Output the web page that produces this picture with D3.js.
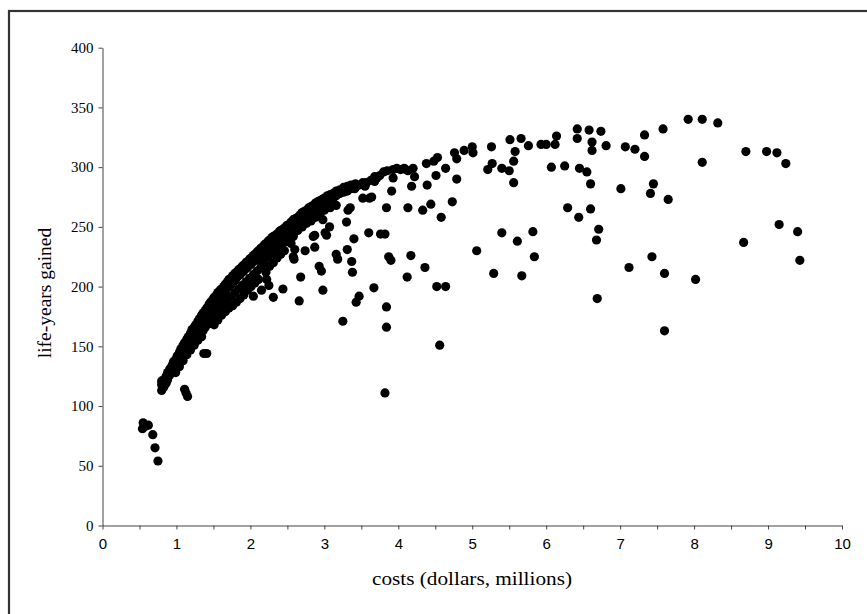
<!DOCTYPE html>
<html lang="en">
<head>
  <meta charset="UTF-8">
  <title>Life-years gained vs costs</title>
  <style>
    body { margin: 0; background: #fff; }
    .y-tick text { font-family: 'Liberation Serif', serif; font-size: 15px; fill: #000; }
    .x-tick text { font-family: 'Liberation Sans Narrow', 'Liberation Sans', sans-serif; font-size: 15px; fill: #000; }
    .axis-title { font-family: 'Liberation Serif', serif; font-size: 19.5px; fill: #000; }
  </style>
</head>
<body>
  <div id="chart"></div>

  <script src="https://d3js.org/d3.v7.min.js"></script>
  <script>
    // points: [cost in $ millions, life-years gained]
    const lowCostPoints = [
      [0.55, 86], [0.62, 84], [0.54, 81], [0.58, 83], [0.68, 76], [0.71, 65], [0.75, 54],
      [1.11, 114], [1.13, 111], [1.15, 108], [1.37, 144], [1.41, 144], [0.80, 113]
    ];

    const mainBandPoints = [
      [0.80, 118], [0.80, 121], [0.83, 116], [0.83, 122], [0.86, 119], [0.86, 125], [0.88, 128], [0.88, 122],
      [0.91, 126], [0.91, 131], [0.94, 128], [0.94, 134], [0.96, 131], [0.96, 137], [0.99, 133], [0.99, 139], [0.99, 128],
      [1.01, 136], [1.01, 142], [1.04, 139], [1.04, 145], [1.04, 133], [1.06, 142], [1.06, 148],
      [1.09, 145], [1.09, 151], [1.09, 138], [1.11, 147], [1.11, 153], [1.14, 150], [1.14, 156], [1.14, 143],
      [1.16, 152], [1.16, 158], [1.19, 155], [1.19, 161], [1.19, 147], [1.21, 158], [1.21, 164],
      [1.24, 160], [1.24, 166], [1.24, 151], [1.26, 163], [1.26, 168], [1.29, 165], [1.29, 171], [1.29, 155],
      [1.31, 167], [1.31, 173], [1.34, 170], [1.34, 176], [1.34, 158], [1.36, 172], [1.36, 178], [1.36, 163],
      [1.39, 175], [1.39, 180], [1.39, 166], [1.41, 177], [1.41, 182], [1.44, 179], [1.44, 185], [1.44, 169],
      [1.46, 181], [1.46, 187], [1.46, 172], [1.49, 183], [1.49, 189], [1.49, 176], [1.51, 185], [1.51, 191], [1.51, 168],
      [1.54, 187], [1.54, 193], [1.54, 179], [1.56, 189], [1.56, 195], [1.56, 172], [1.59, 191], [1.59, 197], [1.59, 182],
      [1.61, 193], [1.61, 198], [1.61, 176], [1.64, 195], [1.64, 200], [1.64, 186], [1.66, 197], [1.66, 202], [1.66, 179],
      [1.69, 199], [1.69, 204], [1.69, 189], [1.71, 200], [1.71, 206], [1.71, 182], [1.74, 202], [1.74, 207], [1.74, 192],
      [1.76, 204], [1.76, 209], [1.76, 184], [1.79, 205], [1.79, 211], [1.79, 195], [1.81, 207], [1.81, 212], [1.81, 187],
      [1.84, 209], [1.84, 214], [1.84, 198], [1.86, 210], [1.86, 215], [1.86, 190], [1.89, 212], [1.89, 217], [1.89, 201],
      [1.91, 213], [1.91, 218], [1.91, 193], [1.94, 215], [1.94, 220], [1.94, 204], [1.96, 216], [1.96, 221], [1.96, 197],
      [1.99, 218], [1.99, 223], [1.99, 207], [2.01, 219], [2.01, 224], [2.01, 200], [2.04, 221], [2.04, 226], [2.04, 210],
      [2.06, 222], [2.06, 227], [2.06, 203], [2.09, 224], [2.09, 229], [2.09, 213], [2.11, 225], [2.11, 230], [2.11, 206],
      [2.14, 227], [2.14, 232], [2.14, 216], [2.16, 228], [2.16, 233], [2.16, 219], [2.19, 230], [2.19, 235], [2.19, 222],
      [2.21, 231], [2.21, 236], [2.21, 212], [2.24, 233], [2.24, 238], [2.24, 225], [2.26, 234], [2.26, 239], [2.26, 217],
      [2.29, 235], [2.29, 241], [2.29, 228], [2.31, 237], [2.31, 242], [2.31, 220], [2.34, 238], [2.34, 243], [2.34, 231],
      [2.36, 239], [2.36, 244], [2.36, 224], [2.39, 241], [2.39, 246], [2.39, 233], [2.41, 242], [2.41, 247], [2.41, 227],
      [2.44, 243], [2.44, 248], [2.44, 236], [2.46, 244], [2.46, 249], [2.46, 230], [2.49, 246], [2.49, 251], [2.49, 238],
      [2.52, 247], [2.52, 252], [2.52, 241], [2.55, 249], [2.55, 254], [2.55, 236], [2.58, 250], [2.58, 256], [2.58, 244],
      [2.61, 252], [2.61, 257], [2.64, 253], [2.64, 258], [2.64, 247], [2.67, 255], [2.67, 260],
      [2.70, 256], [2.70, 262], [2.70, 250], [2.73, 258], [2.73, 263], [2.76, 259], [2.76, 264], [2.76, 253],
      [2.79, 261], [2.79, 266], [2.82, 262], [2.82, 267], [2.82, 255], [2.85, 264], [2.85, 268],
      [2.88, 265], [2.88, 270], [2.88, 258], [2.91, 266], [2.91, 271], [2.94, 268], [2.94, 272], [2.94, 261],
      [2.97, 269], [2.97, 273], [3.00, 270], [3.00, 274], [3.00, 264], [3.04, 271], [3.04, 276],
      [3.08, 273], [3.08, 277], [3.08, 266], [3.12, 274], [3.12, 278], [3.16, 276], [3.16, 280], [3.16, 268],
      [3.21, 278], [3.21, 281], [3.26, 279], [3.26, 283], [3.31, 280], [3.31, 284], [3.36, 282], [3.36, 285],
      [3.42, 283], [3.42, 286], [3.47, 285], [3.52, 287], [3.57, 287], [3.63, 289], [3.71, 291], [3.75, 293],
      [3.80, 296], [3.98, 299], [4.08, 299], [4.13, 297]
    ];

    const midScatterPoints = [
      [2.74, 230], [2.87, 233], [2.59, 223], [2.68, 208], [2.93, 217], [2.96, 213], [2.98, 197], [2.66, 188],
      [2.44, 198], [2.31, 191], [2.22, 206], [2.25, 201], [2.15, 197], [2.04, 192], [2.87, 243], [3.01, 245],
      [2.58, 242], [2.60, 231], [2.58, 225], [2.98, 256], [3.07, 250], [3.03, 243], [2.85, 242],
      [3.32, 264], [3.30, 254], [3.64, 275], [3.14, 277], [3.28, 280],
      [3.82, 111], [4.56, 151], [3.84, 166], [3.84, 183], [3.43, 187], [3.47, 192], [3.67, 199], [4.52, 200],
      [4.64, 200], [4.12, 208], [4.36, 216], [3.87, 225], [3.90, 222], [4.17, 226], [3.37, 221], [3.38, 212],
      [3.31, 231], [3.40, 240], [3.60, 245], [3.76, 244], [3.82, 244], [3.16, 227], [3.18, 223], [3.25, 171],
      [5.06, 230], [5.29, 211], [5.67, 209], [5.40, 245], [5.61, 238], [5.82, 246], [5.84, 225],
      [3.84, 266], [4.13, 266], [4.33, 264], [4.44, 269], [4.58, 258], [4.73, 271], [4.79, 290], [5.56, 287],
      [5.21, 298], [5.27, 303], [5.40, 299], [5.50, 297], [5.56, 305], [5.58, 313], [5.26, 317], [5.51, 323],
      [5.66, 324], [5.76, 318], [5.93, 319], [6.00, 319], [6.12, 319], [6.14, 326],
      [5.00, 317], [5.01, 312], [4.89, 314], [4.76, 312], [4.79, 307], [4.64, 299], [4.51, 293], [4.53, 308],
      [4.48, 305], [4.38, 303], [4.39, 285], [4.18, 284], [4.22, 292], [4.20, 299], [4.10, 298], [4.03, 298],
      [3.93, 298], [3.85, 297], [3.91, 280], [3.93, 291], [3.68, 292], [3.61, 274], [3.52, 274], [3.68, 288],
      [3.55, 284], [3.41, 282], [3.35, 266]
    ];

    const highCostPoints = [
      [6.29, 266], [6.44, 258], [6.60, 265], [6.60, 286], [6.07, 300], [6.25, 301], [6.45, 299], [6.55, 296],
      [6.42, 332], [6.42, 324], [6.58, 331], [6.62, 321], [6.62, 314], [6.81, 318], [6.74, 330],
      [6.69, 190], [6.71, 248], [6.68, 239],
      [7.07, 317], [7.20, 315], [7.33, 327], [7.33, 309], [7.58, 332], [7.01, 282], [7.45, 286], [7.41, 278],
      [7.65, 273], [7.43, 225], [7.12, 216], [7.60, 211], [7.60, 163],
      [7.92, 340], [8.11, 340], [8.32, 337], [8.11, 304], [8.02, 206], [8.67, 237], [8.70, 313],
      [8.98, 313], [9.12, 312], [9.24, 303], [9.15, 252], [9.40, 246], [9.43, 222]
    ];

    const xTickValues = d3.range(0, 10.01, 0.5);
    const xTickLabels = ['0', '', '1', '', '2', '', '3', '', '4', '', '5', '', '6', '', '7', '', '8', '', '9', '', '10'];
    const yTickValues = [0, 50, 100, 150, 200, 250, 300, 350, 400];

    const width = 867;
    const height = 614;

    const svg = d3.select('#chart')
      .append('svg')
      .attr('width', width)
      .attr('height', height);

    // frame round the figure (only the left and top edges fall inside the page)
    svg.append('rect')
      .attr('x', 9)
      .attr('y', 11)
      .attr('width', 880)
      .attr('height', 640)
      .attr('fill', 'none')
      .attr('stroke', '#333')
      .attr('stroke-width', 2.2);

    const xScale = d3.scaleLinear().domain([0, 10]).range([102.5, 842]);
    const yScale = d3.scaleLinear().domain([0, 400]).range([525.5, 47.7]);

    // axes
    const xAxis = d3.axisBottom(xScale)
      .tickValues(xTickValues)
      .tickSize(4)
      .tickSizeOuter(0)
      .tickPadding(9)
      .tickFormat((d, i) => xTickLabels[i]);

    const yAxis = d3.axisLeft(yScale)
      .tickValues(yTickValues)
      .tickSize(4)
      .tickSizeOuter(0)
      .tickPadding(5);

    const gx = svg.append('g')
      .attr('class', 'x-tick')
      .attr('transform', `translate(0, ${yScale(0)})`)
      .call(xAxis);

    const gy = svg.append('g')
      .attr('class', 'y-tick')
      .attr('transform', `translate(${xScale(0)}, 0)`)
      .call(yAxis);

    gx.select('.domain').attr('stroke', '#444');
    gy.select('.domain').attr('stroke', '#444');
    gx.selectAll('.tick line').attr('stroke', '#444');
    gy.selectAll('.tick line').attr('stroke', '#444');

    // axis titles
    svg.append('text')
      .attr('class', 'axis-title')
      .attr('x', 472)
      .attr('y', 585)
      .attr('text-anchor', 'middle')
      .attr('textLength', 200)
      .attr('lengthAdjust', 'spacingAndGlyphs')
      .text('costs (dollars, millions)');

    svg.append('text')
      .attr('class', 'axis-title')
      .attr('transform', 'rotate(-90)')
      .attr('x', -293)
      .attr('y', 51)
      .attr('text-anchor', 'middle')
      .text('life-years gained');

    // dots
    const allPoints = lowCostPoints.concat(mainBandPoints, midScatterPoints, highCostPoints);

    svg.append('g')
      .selectAll('circle')
      .data(allPoints)
      .enter()
      .append('circle')
      .attr('cx', d => xScale(d[0]))
      .attr('cy', d => yScale(d[1]))
      .attr('r', 4.6)
      .attr('fill', '#000');
  </script>
</body>
</html>
